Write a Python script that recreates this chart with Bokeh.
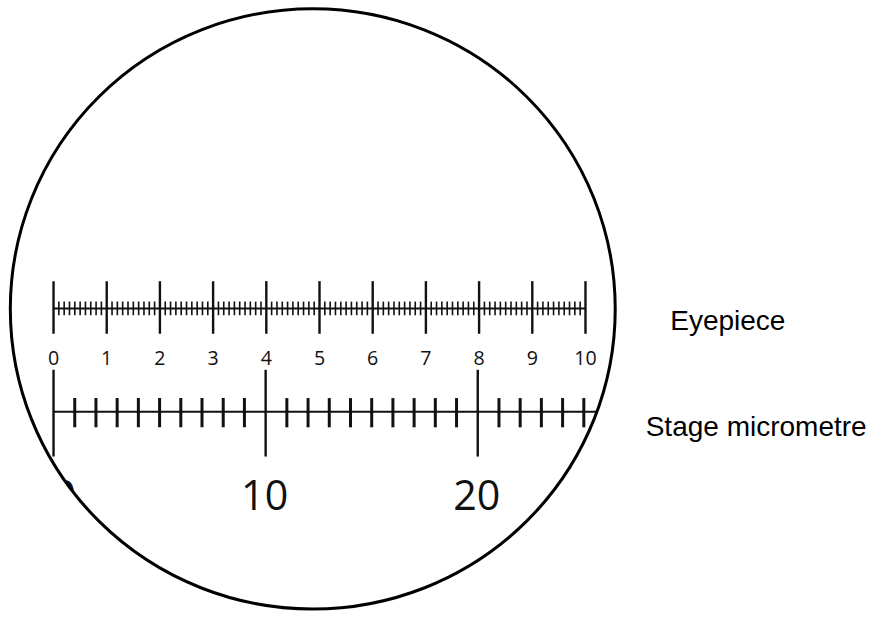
import numpy as np
from bokeh.plotting import figure
from bokeh.models import Range1d
from bokeh.core.properties import value
from bokeh.embed import file_html
from bokeh.resources import INLINE

# ---- data ----
eyepiece_major = [0, 1, 2, 3, 4, 5, 6, 7, 8, 9, 10]
eyepiece_labels = ["0", "1", "2", "3", "4", "5", "6", "7", "8", "9", "10"]
eyepiece_minor = [i / 10 for i in range(0, 101) if i % 10 != 0]
stage_major = [0, 10, 20]
stage_labels = ["0", "10", "20"]
stage_minor = [i for i in range(0, 26) if i % 10 != 0]
stage_line_end = 26
label_texts = ["Eyepiece", "Stage micrometre"]

# ---- figure: drawing space is the 889x627 reference frame ----
W, H = 873, 611
RW, RH = 889, 627
k = W / RW  # screen px per reference px
p = figure(width=W, height=H, output_backend="svg", toolbar_location=None,
           x_range=Range1d(0, RW), y_range=Range1d(RH, 0),
           min_border=0, outline_line_color=None)
p.axis.visible = False
p.grid.visible = False
p.background_fill_color = "white"

# eyepiece scale: 0 -> x=54, 10 -> x=595.7
eu = 10 / (595.7 - 54)
p.extra_x_ranges["eye"] = Range1d((0 - 54) * eu, (RW - 54) * eu)
# stage scale: 0 -> x=54, 10 -> x=270
su = 10 / (270 - 54)
p.extra_x_ranges["stage"] = Range1d((0 - 54) * su, (RW - 54) * su)

ink = "#111111"

# eyepiece
p.segment(x0=[eyepiece_major[0]], x1=[eyepiece_major[-1]], y0=[316], y1=[316],
          x_range_name="eye", line_color=ink, line_width=2)
p.segment(x0=eyepiece_minor, x1=eyepiece_minor, y0=309, y1=323,
          x_range_name="eye", line_color=ink, line_width=1.6)
p.segment(x0=eyepiece_major, x1=eyepiece_major, y0=288, y1=342,
          x_range_name="eye", line_color=ink, line_width=2.4)
p.text(x=eyepiece_major, y=367, text=eyepiece_labels, x_range_name="eye",
       text_align="center", text_baseline="alphabetic",
       text_font=value("Open Sans"), text_font_size=f"{20 * k:.1f}px",
       text_color=ink)

# stage micrometre
p.segment(x0=[0], x1=[stage_line_end], y0=[422], y1=[422],
          x_range_name="stage", line_color=ink, line_width=2)
p.segment(x0=stage_minor, x1=stage_minor, y0=408, y1=438,
          x_range_name="stage", line_color=ink, line_width=3)
p.segment(x0=stage_major, x1=stage_major, y0=379, y1=468,
          x_range_name="stage", line_color=ink, line_width=2.4)
p.text(x=stage_major[:1], y=507, text=stage_labels[:1], x_range_name="stage",
       x_offset=11 * k,
       text_align="center", text_baseline="alphabetic",
       text_font=value("Open Sans"), text_font_size=f"{42 * k:.1f}px",
       text_color=ink)
p.text(x=stage_major[1:], y=507, text=stage_labels[1:], x_range_name="stage",
       x_offset=-1 * k,
       text_align="center", text_baseline="alphabetic",
       text_font=value("Open Sans"), text_font_size=f"{42 * k:.1f}px",
       text_color=ink)

# mask outside of the field of view, then its rim
cx, cy, r = 318, 316.5, 308
t = np.linspace(0, 2 * np.pi, 361)
hole_x = list(cx + r * np.cos(t))
hole_y = list(cy + r * np.sin(t))
outer_x = [-50, RW + 50, RW + 50, -50]
outer_y = [-50, -50, RH + 50, RH + 50]
p.multi_polygons(xs=[[[outer_x, hole_x]]], ys=[[[outer_y, hole_y]]],
                 fill_color="white", line_color=None)
p.ellipse(x=[cx], y=[cy], width=2 * r, height=2 * r, fill_color=None,
          line_color="black", line_width=3)

# side labels
p.text(x=[682, 657], y=[328, 437], text=label_texts,
       text_align="left", text_baseline="alphabetic",
       text_font=value("Liberation Sans"), text_font_size=f"{28.5 * k:.1f}px",
       text_color="black")

open("out.html", "w").write(file_html(p, INLINE))
